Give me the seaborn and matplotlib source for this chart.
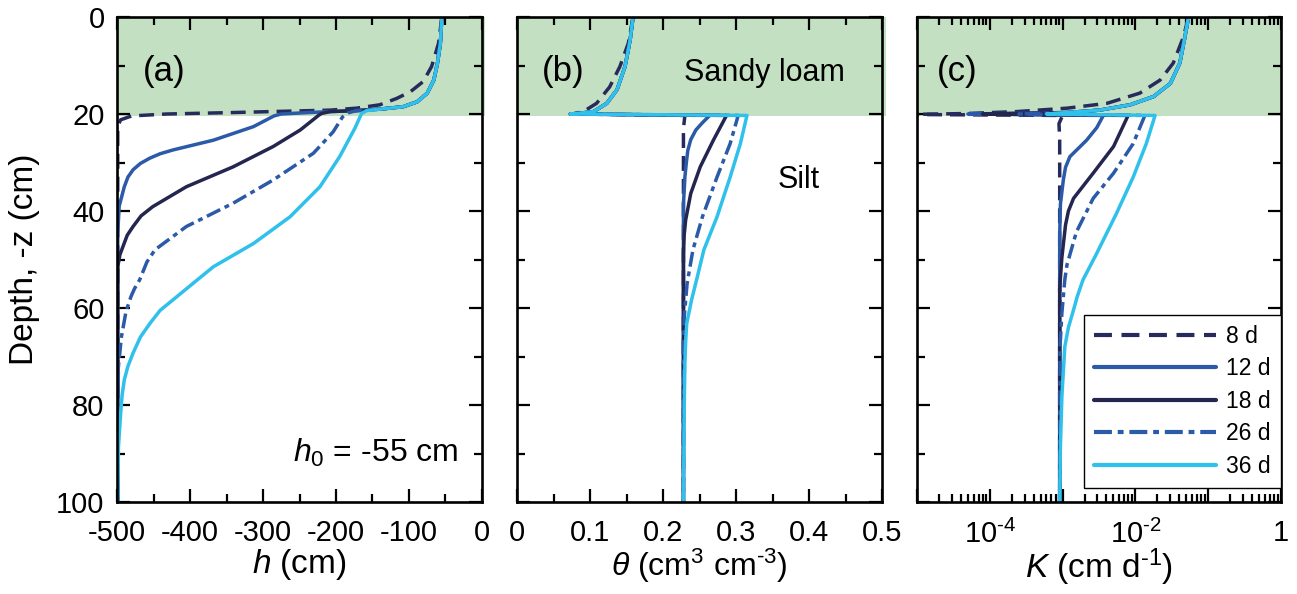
import numpy as np
import pandas as pd
import matplotlib
matplotlib.use("Agg")
import matplotlib.pyplot as plt
import seaborn as sns
from matplotlib.ticker import LogLocator, NullFormatter, FixedLocator, FixedFormatter
from matplotlib.patches import Rectangle
from matplotlib.lines import Line2D

# ---------------- data ----------------
labels = ["8 d", "12 d", "18 d", "26 d", "36 d"]
colors = ["#262a5c", "#2b5aa8", "#252650", "#2b5aa8", "#2fc0eb"]

# Panel (a): pressure head h (cm) vs depth (cm)
h_z_8d = [0, 5.4, 10.2, 13.3, 15.4, 16.8, 18.1, 18.8, 19.2, 19.7, 20.0, 20.4, 21.2, 22.5, 100]
h_8d = [-55, -59.5, -69, -80.5, -98, -117, -140, -172, -208, -341, -432, -480, -495, -499, -499]
h_z_12d = [0, 5.4, 9.5, 13, 15.7, 17.5, 18.5, 19.0, 19.3, 19.5, 19.8, 20.0, 20.4, 22.6, 25.4, 27.4, 28.2, 29.1, 30.2, 31.5, 33, 35, 39, 44.6, 100]
h_12d = [-55, -57, -61, -66, -75, -89, -108, -140, -172, -208, -250, -275, -285, -313, -368, -423, -441, -455, -468, -478, -485, -490, -497, -499, -499]
h_z_18d = [0, 5.4, 9.5, 13, 15.7, 17.5, 18.5, 19.0, 19.3, 19.5, 19.9, 20.3, 23.3, 26.7, 30.9, 35, 39.1, 41, 43.2, 45, 47.4, 49, 51.5, 100]
h_18d = [-55, -57, -61, -66, -75, -89, -108, -140, -172, -208, -220, -224, -249, -286, -341, -405, -451, -467, -478, -486, -492, -496, -499, -499]
h_z_26d = [0, 5.4, 9.5, 13, 15.7, 17.5, 18.5, 19.0, 19.3, 19.8, 20.6, 23.7, 28.1, 33.6, 38.4, 43.2, 48, 50.5, 54.2, 56, 57.7, 59.5, 61, 63.5, 66, 72, 80, 100]
h_26d = [-55, -57, -61, -66, -75, -89, -108, -140, -172, -184, -191, -204, -231, -286, -341, -405, -448, -459, -469, -476, -481, -485, -488, -491, -494, -498, -499, -499]
h_z_36d = [0, 5.4, 9.5, 13, 15.7, 17.5, 18.5, 19.0, 19.3, 19.9, 22.9, 28.8, 35, 41.2, 46.7, 51.5, 54.2, 58.4, 60.5, 63.2, 66, 69.3, 72, 74.8, 78, 81.7, 88.6, 100]
h_36d = [-55, -57, -61, -66, -75, -89, -108, -140, -158, -165, -174, -195, -222, -263, -313, -368, -390, -424, -441, -455, -468, -478, -485, -490, -493, -495, -498, -499]

# Panel (b): water content theta vs depth
t_z_8d = [0, 5.4, 10.2, 14.4, 17.8, 19.5, 19.9, 20.0, 20.3, 23, 100]
t_8d = [0.159, 0.1525, 0.141, 0.127, 0.109, 0.091, 0.079, 0.076, 0.230, 0.228, 0.228]
t_z_12d = [0, 4.7, 10.2, 15, 17.8, 19.5, 19.9, 20.0, 20.3, 21.8, 23.3, 25.3, 27.5, 30, 33, 38.6, 100]
t_12d = [0.159, 0.155, 0.148, 0.137, 0.123, 0.105, 0.082, 0.073, 0.264, 0.254, 0.245, 0.238, 0.234, 0.232, 0.230, 0.228, 0.228]
t_z_18d = [0, 4.7, 10.2, 15, 17.8, 19.5, 19.9, 20.0, 20.3, 25.4, 30.9, 36.4, 41.9, 45, 48.7, 100]
t_18d = [0.159, 0.155, 0.148, 0.137, 0.123, 0.105, 0.082, 0.073, 0.287, 0.269, 0.251, 0.238, 0.231, 0.229, 0.228, 0.228]
t_z_26d = [0, 4.7, 10.2, 15, 17.8, 19.5, 19.9, 20.0, 20.3, 26.1, 33, 41.2, 48, 55, 62, 70, 100]
t_26d = [0.159, 0.155, 0.148, 0.137, 0.123, 0.105, 0.082, 0.073, 0.303, 0.292, 0.274, 0.254, 0.241, 0.233, 0.229, 0.228, 0.228]
t_z_36d = [0, 4.7, 10.2, 15, 17.8, 19.5, 19.9, 20.0, 20.3, 26.1, 33, 41.2, 48, 54.2, 58.4, 63.2, 67, 71.4, 81.7, 100]
t_36d = [0.159, 0.155, 0.148, 0.137, 0.123, 0.105, 0.082, 0.073, 0.315, 0.306, 0.292, 0.274, 0.256, 0.246, 0.239, 0.2325, 0.231, 0.230, 0.229, 0.228]

# Panel (c): log10 of hydraulic conductivity K (cm/d) vs depth
k_z_8d = [0, 4.1, 9.5, 13, 15.7, 17.8, 18.8, 19.5, 19.9, 20.1, 20.3, 22, 25, 100]
logk_8d = [-1.27, -1.34, -1.48, -1.66, -1.94, -2.39, -2.94, -3.63, -4.32, -5.1, -3.00, -3.05, -3.04, -3.04]
k_z_12d = [0, 4.1, 9.5, 13.7, 16.4, 18.1, 19.2, 19.7, 20.0, 20.3, 22.8, 25.4, 28.8, 31, 33.6, 38.6, 45, 100]
logk_12d = [-1.27, -1.32, -1.39, -1.52, -1.75, -2.07, -2.49, -2.94, -4.3, -2.44, -2.53, -2.67, -2.90, -2.96, -2.99, -3.03, -3.04, -3.04]
k_z_18d = [0, 4.1, 9.5, 13.7, 16.4, 18.1, 19.2, 19.7, 20.0, 20.3, 26.7, 32.2, 37.4, 40, 42.9, 49.6, 56, 100]
logk_18d = [-1.27, -1.32, -1.39, -1.52, -1.75, -2.07, -2.49, -2.94, -4.1, -2.10, -2.30, -2.58, -2.85, -2.92, -2.96, -3.01, -3.04, -3.04]
k_z_26d = [0, 4.1, 9.5, 13.7, 16.4, 18.1, 19.2, 19.7, 20.0, 20.3, 26.1, 32.2, 37.4, 44.3, 51.1, 54.2, 61.1, 68, 100]
logk_26d = [-1.27, -1.32, -1.39, -1.52, -1.75, -2.07, -2.49, -2.94, -3.6, -1.87, -2.03, -2.30, -2.58, -2.81, -2.94, -2.97, -3.01, -3.035, -3.04]
k_z_36d = [0, 4.1, 9.5, 13.7, 16.4, 18.1, 19.2, 19.7, 20.0, 20.3, 26.1, 33, 40.5, 48.7, 54.2, 57.7, 60.4, 64, 68, 78.3, 88.6, 100]
logk_36d = [-1.27, -1.32, -1.39, -1.52, -1.75, -2.07, -2.49, -2.94, -3.22, -1.73, -1.85, -2.03, -2.26, -2.53, -2.72, -2.80, -2.85, -2.92, -2.97, -3.01, -3.03, -3.04]

h_series = [(h_z_8d, h_8d), (h_z_12d, h_12d), (h_z_18d, h_18d), (h_z_26d, h_26d), (h_z_36d, h_36d)]
t_series = [(t_z_8d, t_8d), (t_z_12d, t_12d), (t_z_18d, t_18d), (t_z_26d, t_26d), (t_z_36d, t_36d)]
k_series = [(k_z_8d, logk_8d), (k_z_12d, logk_12d), (k_z_18d, logk_18d), (k_z_26d, logk_26d), (k_z_36d, logk_36d)]

dash_styles = [(4.3, 2.3), None, None, (4.3, 1.4, 1.4, 1.4), None]

# ---------------- style ----------------
sns.set_theme(style="ticks")
plt.rcParams["font.family"] = ["Liberation Sans", "DejaVu Sans"]
plt.rcParams["mathtext.fontset"] = "custom"
plt.rcParams["mathtext.rm"] = "Liberation Sans"
plt.rcParams["mathtext.it"] = "Liberation Sans:italic"
plt.rcParams["mathtext.bf"] = "Liberation Sans:bold"
plt.rcParams["axes.unicode_minus"] = False
plt.rcParams["text.color"] = "black"
plt.rcParams["axes.labelcolor"] = "black"
plt.rcParams["xtick.color"] = "black"
plt.rcParams["ytick.color"] = "black"

W, H = 1297, 594
fig = plt.figure(figsize=(W / 100, H / 100), dpi=100)

def frac_axes(x0, x1, y0, y1):
    return fig.add_axes([x0 / W, 1 - y1 / H, (x1 - x0) / W, (y1 - y0) / H])

ax_a = frac_axes(117, 482, 17, 502)
ax_b = frac_axes(517, 882, 17, 502)
ax_c = frac_axes(917, 1281, 17, 502)

green = "#c3e1c2"
TICK_FS = 21
LAB_FS = 24
LW = 2.5

def draw(ax, series, xform, extend):
    rect = Rectangle((0, 0), 1 + extend, 20.5, transform=ax.get_yaxis_transform(),
                     facecolor=green, edgecolor="none", zorder=0.5, clip_on=False)
    ax.add_patch(rect)
    for (z, v), c, d in zip(series, colors, dash_styles):
        df = pd.DataFrame({"x": xform(np.asarray(v, float)), "depth": z})
        sns.lineplot(data=df, x="x", y="depth", sort=False, estimator=None, errorbar=None,
                     color=c, lw=LW, ax=ax, legend=False, zorder=3)
        ln = ax.lines[-1]
        ln.set_solid_joinstyle("round")
        if d is not None:
            ln.set_dashes(d)
            ln.set_dash_capstyle("butt")
    ax.set_ylim(100, 0)
    ax.set_xlabel("")
    ax.set_ylabel("")
    ax.yaxis.set_major_locator(FixedLocator([0, 20, 40, 60, 80, 100]))
    ax.yaxis.set_minor_locator(FixedLocator([10, 30, 50, 70, 90]))
    for s in ax.spines.values():
        s.set_linewidth(1.9)
        s.set_color("black")
        s.set_zorder(5)
    ax.tick_params(which="both", direction="in", top=True, right=True, bottom=True, left=True,
                   width=1.6, color="black", labelsize=TICK_FS, labelcolor="black")
    ax.tick_params(which="major", length=9.5)
    ax.tick_params(which="minor", length=5.5)
    ax.tick_params(axis="y", which="major", pad=9)
    ax.tick_params(axis="x", which="major", pad=12.5)
    ax.set_facecolor("white")

ident = lambda a: a
draw(ax_a, h_series, ident, 0.008)
draw(ax_b, t_series, ident, 0.011)
draw(ax_c, k_series, lambda a: 10 ** a, 0.0)

XLAB_Y = -0.092

# panel a axes
ax_a.set_xlim(-500, 0)
ax_a.xaxis.set_major_locator(FixedLocator([-500, -400, -300, -200, -100, 0]))
ax_a.xaxis.set_major_formatter(FixedFormatter(["-500", "-400", "-300", "-200", "-100", "0"]))
ax_a.xaxis.set_minor_locator(FixedLocator([-450, -350, -250, -150, -50]))
ax_a.set_xlabel(r"$h$ (cm)", fontsize=LAB_FS)
ax_a.xaxis.set_label_coords(0.5, XLAB_Y)
ax_a.set_ylabel("Depth, -z (cm)", fontsize=LAB_FS)
ax_a.yaxis.set_label_coords(-0.21, 0.5)
ax_a.text(0.072, 0.887, "(a)", transform=ax_a.transAxes, fontsize=25, va="center", ha="left", zorder=6)
ax_a.text(0.934, 0.101, r"$h_0$ = -55 cm", transform=ax_a.transAxes, fontsize=23,
          va="center", ha="right", zorder=6)

# panel b axes
ax_b.set_xlim(0, 0.5)
ax_b.xaxis.set_major_locator(FixedLocator([0, 0.1, 0.2, 0.3, 0.4, 0.5]))
ax_b.xaxis.set_major_formatter(FixedFormatter(["0", "0.1", "0.2", "0.3", "0.4", "0.5"]))
ax_b.xaxis.set_minor_locator(FixedLocator([0.05, 0.15, 0.25, 0.35, 0.45]))
ax_b.tick_params(axis="y", labelleft=False)
ax_b.set_xlabel(r"$\theta$ (cm$^{3}$ cm$^{\text{-}3}$)", fontsize=23)
ax_b.xaxis.set_label_coords(0.5, XLAB_Y)
ax_b.text(0.068, 0.887, "(b)", transform=ax_b.transAxes, fontsize=25, va="center", ha="left", zorder=6)
ax_b.text(0.677, 0.885, "Sandy loam", transform=ax_b.transAxes, fontsize=22, va="center", ha="center", zorder=6)
ax_b.text(0.773, 0.664, "Silt", transform=ax_b.transAxes, fontsize=22, va="center", ha="center", zorder=6)

# panel c axes
ax_c.set_xscale("log")
ax_c.set_xlim(1e-5, 1)
ax_c.xaxis.set_major_locator(FixedLocator([1e-5, 1e-4, 1e-3, 1e-2, 1e-1, 1]))
ax_c.xaxis.set_major_formatter(FixedFormatter(["", r"10$^{\text{-}4}$", "", r"10$^{\text{-}2}$", "", "1"]))
ax_c.xaxis.set_minor_locator(LogLocator(base=10, subs=np.arange(2, 10), numticks=20))
ax_c.xaxis.set_minor_formatter(NullFormatter())
ax_c.tick_params(axis="y", labelleft=False)
ax_c.set_xlabel(r"$K$ (cm d$^{\text{-}1}$)", fontsize=LAB_FS)
ax_c.xaxis.set_label_coords(0.5, XLAB_Y)
ax_c.text(0.054, 0.887, "(c)", transform=ax_c.transAxes, fontsize=25, va="center", ha="left", zorder=6)

handles = []
for c, d in zip(colors, dash_styles):
    ln = Line2D([], [], color=c, lw=LW + 0.5)
    if d is not None:
        ln.set_dashes(d)
        ln.set_dash_capstyle("butt")
    handles.append(ln)
leg = ax_c.legend(handles, labels, loc="lower right", bbox_to_anchor=(1.0, 0.029),
                  borderaxespad=0, fontsize=16.5, handlelength=5.3, handletextpad=0.45,
                  labelspacing=0.41, borderpad=0.45, frameon=True, fancybox=False,
                  framealpha=1, edgecolor="black")
leg.get_frame().set_linewidth(1.0)
leg.set_zorder(10)

fig.savefig("out.png", dpi=100)
